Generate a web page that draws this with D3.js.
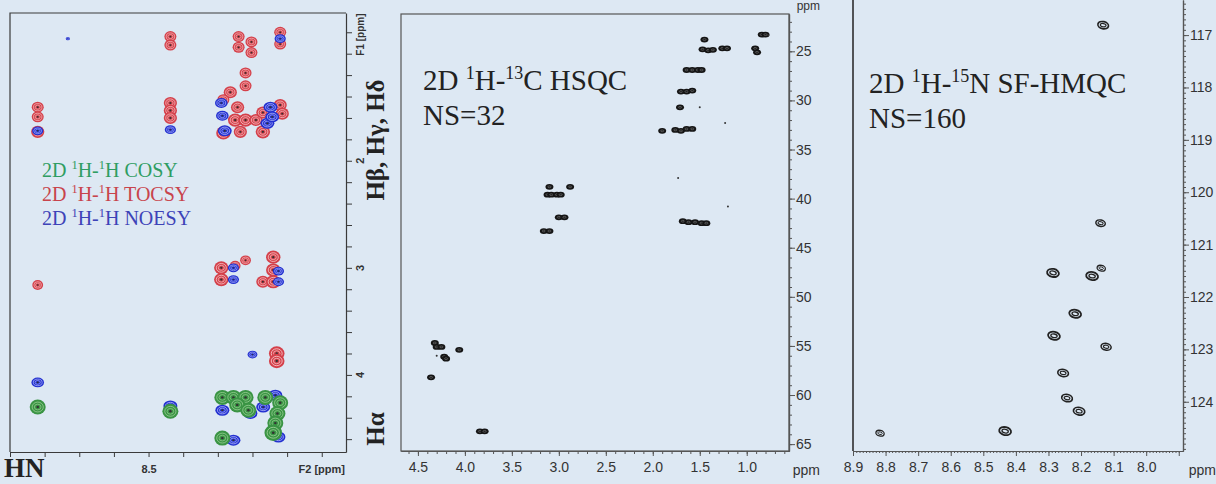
<!DOCTYPE html>
<html>
<head>
<meta charset="utf-8">
<script src="https://cdn.jsdelivr.net/npm/d3@7"></script>
<style>
  body { margin: 0; background: #dde8f3; }
  svg { display: block; }
</style>
</head>
<body>
<svg id="fig" width="1216" height="484"></svg>
<script>
// ---- peak lists (ppm) ----
// left panel: [HN, H(F1), relative intensity]
var cosyPeaks = [
  [8.82, 4.30, 1], [8.437, 4.34, 1], [8.287, 4.21, 1], [8.255, 4.21, 1], [8.22, 4.21, 1],
  [8.244, 4.28, 1], [8.212, 4.33, 1], [8.163, 4.21, 1], [8.12, 4.26, 1], [8.128, 4.36, 1],
  [8.134, 4.45, 1], [8.14, 4.54, 1.1], [8.287, 4.59, 1]
]
var tocsyPeaks = [
  [8.437, 0.84, 1], [8.437, 0.92, 1], [8.24, 0.84, 1], [8.24, 0.94, 1], [8.203, 0.89, 1], [8.203, 0.99, 1],
  [8.12, 0.80, 1], [8.12, 0.91, 1], [8.22, 1.18, 1], [8.22, 1.30, 1],
  [8.82, 1.50, 1], [8.82, 1.59, 1], [8.82, 1.73, 1.1],
  [8.437, 1.46, 1.1], [8.437, 1.53, 1.1], [8.437, 1.60, 1.1],
  [8.264, 1.36, 1.1], [8.284, 1.43, 1], [8.243, 1.50, 1.1], [8.25, 1.62, 1.2], [8.22, 1.62, 1.2], [8.19, 1.62, 1.1],
  [8.284, 1.74, 1.2], [8.235, 1.73, 1.1], [8.17, 1.55, 1.1], [8.17, 1.73, 1.2], [8.12, 1.48, 1.1], [8.114, 1.56, 1.1],
  [8.14, 2.90, 1.2], [8.22, 2.93, 0.9], [8.29, 3.00, 1.2], [8.25, 2.98, 0.9], [8.14, 3.02, 1.2],
  [8.29, 3.11, 1.2], [8.17, 3.13, 1.1], [8.14, 3.13, 1.2], [8.82, 3.16, 0.9],
  [8.13, 3.80, 1.3], [8.13, 3.87, 1.3], [8.82, 4.31, 0.9]
]
var noesyPeaks = [
  [8.733, 0.86, 0.3], [8.12, 0.86, 0.8], [8.437, 1.71, 0.8], [8.82, 1.72, 0.8],
  [8.29, 1.46, 0.9], [8.287, 1.58, 0.9], [8.28, 1.72, 1], [8.148, 1.50, 1], [8.157, 1.65, 1], [8.143, 1.59, 1],
  [8.255, 3.00, 0.8], [8.255, 3.11, 0.8], [8.125, 3.03, 0.8], [8.125, 3.13, 0.8], [8.20, 3.81, 0.7],
  [8.82, 4.07, 0.9], [8.437, 4.29, 1], [8.287, 4.33, 1], [8.206, 4.36, 1], [8.169, 4.30, 1],
  [8.134, 4.19, 1], [8.255, 4.61, 1], [8.125, 4.58, 1]
]

// middle panel: [1H, 13C]
var hsqcPeaks = [
  [1.45, 23.8], [1.47, 24.8], [1.41, 24.9], [1.36, 24.85], [1.26, 24.7], [1.21, 24.7],
  [0.84, 23.3], [0.80, 23.3], [0.91, 24.7], [0.89, 25.1],
  [1.64, 26.9], [1.58, 26.9], [1.52, 26.9], [1.48, 26.9],
  [1.70, 29.1], [1.64, 29.1], [1.58, 29.0], [1.71, 30.7],
  [1.90, 33.1], [1.76, 33.0], [1.70, 33.1], [1.64, 32.9], [1.58, 32.9],
  [3.10, 38.8], [2.88, 38.8], [3.12, 39.6], [3.08, 39.6], [3.02, 39.6], [2.98, 39.6],
  [3.00, 41.9], [2.94, 41.9], [3.16, 43.3], [3.10, 43.3],
  [1.68, 42.3], [1.62, 42.4], [1.55, 42.4], [1.48, 42.5], [1.43, 42.5],
  [4.32, 54.7], [4.30, 55.1], [4.25, 55.1], [4.06, 55.4], [4.22, 56.1], [4.20, 56.3],
  [4.36, 58.2], [3.84, 63.7], [3.79, 63.7]
]
var hsqcWeak = [[1.50, 30.7], [1.23, 32.3], [1.73, 37.9], [1.20, 40.8], [4.30, 56.0], [0.77, 23.4]]

// right panel: [1H, 15N, relative intensity]
var hmqcPeaks = [
  [8.132, 116.81, 0.9], [8.14, 120.59, 0.8], [8.286, 121.54, 1], [8.166, 121.60, 1],
  [8.138, 121.45, 0.7], [8.218, 122.32, 1], [8.283, 122.74, 1], [8.123, 122.95, 0.85],
  [8.255, 123.45, 0.9], [8.243, 123.93, 0.9], [8.206, 124.18, 0.95], [8.433, 124.56, 1],
  [8.817, 124.60, 0.7]
]

var sets = [
  { name: "TOCSY", peaks: tocsyPeaks, fill: "#d4404a", inner: "#f6c2c4", rx: 6, ry: 5.5 },
  { name: "NOESY", peaks: noesyPeaks, fill: "#2230d0", inner: "#c8ccff", rx: 7, ry: 5.5 },
  { name: "COSY", peaks: cosyPeaks, fill: "#3a9444", inner: "#a8d9a0", rx: 8, ry: 7.5 }
]

var legend = [
  { label: "COSY", color: "#2f9d62" },
  { label: "TOCSY", color: "#c8444c" },
  { label: "NOESY", color: "#3d43b8" }
]

var svg = d3.select("#fig")
var sans = "'Liberation Sans', Arial, sans-serif"
var serif = "'Liberation Serif', 'Times New Roman', serif"
var axisCol = "#3a3a3a"

function range(a, b, step, dec) {
  var out = []
  var n = Math.round((b - a) / step)
  for (var i = 0; i <= n; i++) out.push(+(a + i * step).toFixed(dec))
  return out
}

function styleAxis(g, col) {
  g.select(".domain").attr("stroke", col).attr("stroke-width", 1.2)
  g.selectAll(".tick line").attr("stroke", col)
  g.selectAll(".tick text").attr("fill", "#333").style("font-family", sans)
}

function supText(g, x, y, parts, size, color) {
  var t = g.append("text").attr("x", x).attr("y", y)
    .style("font-family", serif).style("font-size", size + "px").attr("fill", color)
  var up = false
  parts.forEach(function (p) {
    var sp = t.append("tspan").text(p[0])
    if (p[1] && !up) { sp.attr("dy", -size * 0.38).style("font-size", (size * 0.62) + "px"); up = true }
    else if (p[1]) { sp.style("font-size", (size * 0.62) + "px") }
    else if (!p[1] && up) { sp.attr("dy", size * 0.38); up = false }
  })
  return t
}

// ================= panel A: homonuclear overlay =================
var xA = d3.scaleLinear().domain([8.9, 7.93]).range([10, 346])
var yA = d3.scaleLinear().domain([0.62, 4.72]).range([13, 452])
var gA = svg.append("g")

gA.append("path").attr("d", "M10,452V13H346").attr("fill", "none")
  .attr("stroke", axisCol).attr("stroke-width", 1.2)

var hnTicks = range(8.0, 8.9, 0.1, 1)
var axA = gA.append("g").attr("transform", "translate(0,452)")
  .call(d3.axisBottom(xA).tickValues(hnTicks).tickSize(5).tickSizeOuter(0)
    .tickFormat(function (d) { return d === 8.5 ? "8.5" : "" }))
styleAxis(axA, axisCol)
axA.selectAll(".tick text").style("font-size", "11px").style("font-weight", "bold").attr("dy", "1.2em")
gA.append("text").attr("x", xA(8.0)).attr("y", 473).attr("text-anchor", "middle")
  .style("font-family", sans).style("font-size", "11px").style("font-weight", "bold")
  .attr("fill", "#333").text("F2 [ppm]")

var f1Ticks = range(0.8, 4.6, 0.2, 1)
var ayA = gA.append("g").attr("transform", "translate(346,0)")
  .call(d3.axisRight(yA).tickValues(f1Ticks).tickSize(6).tickSizeOuter(0).tickFormat(""))
styleAxis(ayA, axisCol)
;[2, 3, 4].forEach(function (v) {
  gA.append("text").attr("transform", "translate(364," + yA(v) + ") rotate(-90)")
    .attr("text-anchor", "middle").style("font-family", sans).style("font-size", "11px")
    .style("font-weight", "bold").attr("fill", "#333").text(v)
})
gA.append("text").attr("transform", "translate(364," + (yA(1.0) + 2) + ") rotate(-90)")
  .attr("text-anchor", "start").style("font-family", sans).style("font-size", "10px")
  .style("font-weight", "bold").attr("fill", "#333").text("F1 [ppm]")

var sizeA = d3.scaleLinear().domain([0, 1]).range([0, 1])
sets.forEach(function (s) {
  var pk = gA.append("g").selectAll("g").data(s.peaks).enter().append("g")
    .attr("transform", function (d) {
      return "translate(" + xA(d[0]) + "," + yA(d[1]) + ") scale(" + sizeA(d[2]) + ")"
    })
  pk.append("ellipse").attr("rx", s.rx).attr("ry", s.ry).attr("fill", s.fill)
  pk.append("ellipse").attr("rx", s.rx * 0.7).attr("ry", s.ry * 0.66).attr("fill", "none")
    .attr("stroke", s.inner).attr("stroke-width", 0.7)
  pk.append("ellipse").attr("rx", s.rx * 0.42).attr("ry", s.ry * 0.38).attr("fill", "none")
    .attr("stroke", s.inner).attr("stroke-width", 0.6)
  pk.append("ellipse").attr("rx", s.rx * 0.16).attr("ry", s.ry * 0.16).attr("fill", "#333")
})

legend.forEach(function (l, i) {
  supText(gA, 42, 177 + i * 24, [["2D ", 0], ["1", 1], ["H-", 0], ["1", 1], ["H " + l.label, 0]], 20, l.color)
})

gA.append("text").attr("transform", "translate(384,140) rotate(-90)").attr("text-anchor", "middle")
  .style("font-family", serif).style("font-size", "25px").style("font-weight", "bold")
  .attr("fill", "#222").text("Hβ, Hγ, Hδ")
gA.append("text").attr("transform", "translate(384,429) rotate(-90)").attr("text-anchor", "middle")
  .style("font-family", serif).style("font-size", "25px").style("font-weight", "bold")
  .attr("fill", "#222").text("Hα")
gA.append("text").attr("x", 4).attr("y", 477)
  .style("font-family", serif).style("font-size", "27px").style("font-weight", "bold")
  .attr("fill", "#222").text("HN")

// ================= panel B: 1H-13C HSQC =================
var xB = d3.scaleLinear().domain([4.68, 0.55]).range([401, 789])
var yB = d3.scaleLinear().domain([21.2, 65.7]).range([14, 451])
var gB = svg.append("g")
gB.append("rect").attr("x", 401).attr("y", 14).attr("width", 388).attr("height", 437)
  .attr("fill", "none").attr("stroke", "#555").attr("stroke-width", 1.2)

var axB1 = gB.append("g").attr("transform", "translate(0,451)")
  .call(d3.axisBottom(xB).tickValues(range(0.6, 4.6, 0.1, 1)).tickSize(3).tickSizeOuter(0).tickFormat(""))
styleAxis(axB1, "#555")
var axB2 = gB.append("g").attr("transform", "translate(0,451)")
  .call(d3.axisBottom(xB).tickValues(range(1.0, 4.5, 0.5, 1)).tickSize(5).tickSizeOuter(0).tickFormat(d3.format(".1f")))
styleAxis(axB2, "#555")
axB2.selectAll(".tick text").style("font-size", "14px").attr("dy", "0.95em")
gB.append("text").attr("x", 820).attr("y", 475).attr("text-anchor", "end")
  .style("font-family", sans).style("font-size", "14px").attr("fill", "#333").text("ppm")

var ayB1 = gB.append("g").attr("transform", "translate(789,0)")
  .call(d3.axisRight(yB).tickValues(range(22, 65, 1, 0)).tickSize(3).tickSizeOuter(0).tickFormat(""))
styleAxis(ayB1, "#555")
var ayB2 = gB.append("g").attr("transform", "translate(789,0)")
  .call(d3.axisRight(yB).tickValues(range(25, 65, 5, 0)).tickSize(6).tickSizeOuter(0))
styleAxis(ayB2, "#555")
ayB2.selectAll(".tick text").style("font-size", "14px").attr("x", 7)
gB.append("text").attr("x", 820).attr("y", 10).attr("text-anchor", "end")
  .style("font-family", sans).style("font-size", "12px").attr("fill", "#333").text("ppm")

var pB = gB.append("g").selectAll("g").data(hsqcPeaks).enter().append("g")
  .attr("transform", function (d) { return "translate(" + xB(d[0]) + "," + yB(d[1]) + ")" })
pB.append("ellipse").attr("rx", 4).attr("ry", 2.9).attr("fill", "#151515")
pB.append("ellipse").attr("rx", 1.6).attr("ry", 0.9).attr("fill", "none")
  .attr("stroke", "#777").attr("stroke-width", 0.6)
gB.append("g").selectAll("circle").data(hsqcWeak).enter().append("circle")
  .attr("cx", function (d) { return xB(d[0]) }).attr("cy", function (d) { return yB(d[1]) })
  .attr("r", 1).attr("fill", "#333")

supText(gB, 423, 90, [["2D ", 0], ["1", 1], ["H-", 0], ["13", 1], ["C HSQC", 0]], 29, "#222")
gB.append("text").attr("x", 423).attr("y", 125).style("font-family", serif)
  .style("font-size", "29px").attr("fill", "#222").text("NS=32")

// ================= panel C: 1H-15N SF-HMQC =================
var xC = d3.scaleLinear().domain([8.9, 7.887]).range([853, 1183])
var yC = d3.scaleLinear().domain([116.33, 124.94]).range([0, 451])
var gC = svg.append("g")
gC.append("path").attr("d", "M853,0V451").attr("stroke", "#222").attr("stroke-width", 1.5)

var axC1 = gC.append("g").attr("transform", "translate(0,451)")
  .call(d3.axisBottom(xC).tickValues(range(7.9, 8.9, 0.01, 2)).tickSize(2).tickSizeOuter(0).tickFormat(""))
styleAxis(axC1, "#555")
var axC2 = gC.append("g").attr("transform", "translate(0,451)")
  .call(d3.axisBottom(xC).tickValues(range(7.9, 8.9, 0.1, 1)).tickSize(5).tickSizeOuter(0)
    .tickFormat(function (d) { return d < 7.95 ? "" : d3.format(".1f")(d) }))
styleAxis(axC2, "#555")
axC2.selectAll(".tick text").style("font-size", "14px").attr("dy", "0.95em")
gC.append("text").attr("x", 1216).attr("y", 475).attr("text-anchor", "end")
  .style("font-family", sans).style("font-size", "14px").attr("fill", "#333").text("ppm")

var ayC1 = gC.append("g").attr("transform", "translate(1183,0)")
  .call(d3.axisRight(yC).tickValues(range(116.4, 124.9, 0.1, 1)).tickSize(3).tickSizeOuter(0).tickFormat(""))
styleAxis(ayC1, "#555")
var ayC2 = gC.append("g").attr("transform", "translate(1183,0)")
  .call(d3.axisRight(yC).tickValues(range(117, 124, 1, 0)).tickSize(6).tickSizeOuter(0))
styleAxis(ayC2, "#555")
ayC2.selectAll(".tick text").style("font-size", "14px").attr("x", 7)

var sizeC = d3.scaleLinear().domain([0, 1]).range([0, 1])
var pC = gC.append("g").selectAll("g").data(hmqcPeaks).enter().append("g")
  .attr("transform", function (d) { return "translate(" + xC(d[0]) + "," + yC(d[1]) + ") rotate(12) scale(" + sizeC(d[2]) + ")" })
pC.append("ellipse").attr("rx", 6).attr("ry", 4).attr("fill", "none").attr("stroke", "#222").attr("stroke-width", 1.8)
pC.append("ellipse").attr("rx", 3.2).attr("ry", 1.8).attr("fill", "none").attr("stroke", "#222").attr("stroke-width", 1.3)

supText(gC, 869, 93, [["2D ", 0], ["1", 1], ["H-", 0], ["15", 1], ["N SF-HMQC", 0]], 29, "#222")
gC.append("text").attr("x", 869).attr("y", 128).style("font-family", serif)
  .style("font-size", "29px").attr("fill", "#222").text("NS=160")
</script>
</body>
</html>
